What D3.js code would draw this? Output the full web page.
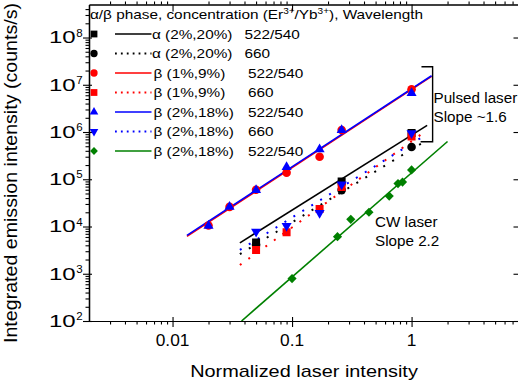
<!DOCTYPE html>
<html><head><meta charset="utf-8">
<script src="https://cdn.jsdelivr.net/npm/d3@7"></script>
<style>
body{margin:0;background:#fff}
svg{display:block}
text{font-family:"Liberation Sans",Arial,sans-serif;fill:#000}
</style>
</head><body>
<svg id="c" width="518" height="386"></svg>
<script>
// ---------- data ----------
const xDomain = [0.002, 8];
const yDomain = [100, 5e8];
const xTickValues = [0.01, 0.1, 1];
const xTickLabels = ["0.01", "0.1", "1"];
const yTickExps = [2, 3, 4, 5, 6, 7, 8];

const xAlpha522 = [0.05, 0.26, 1.0];
const yAlpha522 = [4.6e3, 9.0e4, 9.5e5];
const xAlpha660 = [0.05, 0.26, 1.0];
const yAlpha660 = [4.1e3, 5.9e4, 4.8e5];
const xBeta1_522 = [0.02, 0.03, 0.05, 0.09, 0.17, 0.26, 1.0];
const yBeta1_522 = [1.05e4, 2.6e4, 6.0e4, 1.38e5, 3.0e5, 1.1e6, 8.0e6];
const xBeta1_660 = [0.05, 0.09, 0.17, 0.26, 1.0];
const yBeta1_660 = [3.2e3, 7.6e3, 2.35e4, 6.9e4, 8.0e5];
const xBeta2_522 = [0.02, 0.03, 0.05, 0.09, 0.17, 0.26, 1.0];
const yBeta2_522 = [1.03e4, 2.6e4, 5.9e4, 1.82e5, 4.3e5, 1.1e6, 6.7e6];
const xBeta2_660 = [0.05, 0.09, 0.17, 0.26, 1.0];
const yBeta2_660 = [7.8e3, 1.03e4, 1.94e4, 7.8e4, 9.5e5];
const xCW = [0.1, 0.24, 0.31, 0.44, 0.65, 0.77, 0.84, 1.0];
const yCW = [790, 6.1e3, 1.42e4, 2.0e4, 4.4e4, 8.1e4, 8.7e4, 1.58e5];

// fitted power-law lines (end points)
const fitAlpha522 = [[0.0366, 4.5e3], [1.35, 1.38e6]];
const fitAlpha660 = [[0.0366, 2.6e3], [1.35, 6.8e5]];
const fitBeta1_522 = [[0.0132, 6.2e3], [1.47, 1.5e7]];
const fitBeta1_660 = [[0.0366, 1.53e3], [1.35, 1.1e6]];
const fitBeta2_522 = [[0.0132, 6.5e3], [1.47, 1.55e7]];
const fitBeta2_660 = [[0.0366, 3.2e3], [1.35, 9.1e5]];
const fitCW = [[0.0378, 100], [2.0, 6.3e5]];

const legendLabels = ["\u03b1 (2%,20%)", "\u03b1 (2%,20%)", "\u03b2 (1%,9%)", "\u03b2 (1%,9%)", "\u03b2 (2%,18%)", "\u03b2 (2%,18%)", "\u03b2 (2%,18%)"];
const legendWaves = ["522/540", "660", "522/540", "660", "522/540", "660", "522/540"];

// ---------- setup ----------
const BLACK = "#000000", RED = "#ff0000", BLUE = "#0000ff", GREEN = "#008000";
const svg = d3.select("#c");
const L = 89, R = 519.5, T = 4.5, B = 321;
const x = d3.scaleLog().domain(xDomain).range([L, R]);
const y = d3.scaleLog().domain(yDomain).range([B, T]);

const series = [
  {xs: xAlpha522, ys: yAlpha522, fit: fitAlpha522, color: BLACK, sym: "square", dash: false},
  {xs: xAlpha660, ys: yAlpha660, fit: fitAlpha660, color: BLACK, sym: "circle", dash: true},
  {xs: xBeta1_522, ys: yBeta1_522, fit: fitBeta1_522, color: RED, sym: "circle", dash: false},
  {xs: xBeta1_660, ys: yBeta1_660, fit: fitBeta1_660, color: RED, sym: "square", dash: true},
  {xs: xBeta2_522, ys: yBeta2_522, fit: fitBeta2_522, color: BLUE, sym: "up", dash: false},
  {xs: xBeta2_660, ys: yBeta2_660, fit: fitBeta2_660, color: BLUE, sym: "down", dash: true},
  {xs: xCW, ys: yCW, fit: fitCW, color: GREEN, sym: "diamond", dash: false}
];

function symPath(kind, scale) {
  const s = scale || 1;
  if (kind === "square") return d3.symbol(d3.symbolSquare, 64 * s * s)();
  if (kind === "circle") return d3.symbol(d3.symbolCircle, 58 * s * s)();
  if (kind === "up" || kind === "down") return d3.symbol(d3.symbolTriangle, 44 * s * s)();
  if (kind === "diamond") return d3.symbol(d3.symbolSquare, 42 * s * s)();
}
function symRot(kind) {
  if (kind === "down") return " rotate(180)";
  if (kind === "diamond") return " rotate(45)";
  return "";
}

// clip
svg.append("clipPath").attr("id", "clip").append("rect")
  .attr("x", L).attr("y", T).attr("width", R - L).attr("height", B - T);
const plot = svg.append("g").attr("clip-path", "url(#clip)");

// fit lines
const line = d3.line().x(d => x(d[0])).y(d => y(d[1]));
series.forEach(s => {
  plot.append("path").datum(s.fit).attr("d", line)
    .attr("fill", "none").attr("stroke", s.color)
    .attr("stroke-width", s.dash ? 2 : 1.6)
    .attr("stroke-dasharray", s.dash ? "2,8.5" : null);
});

// markers
series.forEach(s => {
  plot.selectAll(null).data(s.xs.map((v, i) => [v, s.ys[i]])).enter()
    .append("path").attr("d", symPath(s.sym))
    .attr("transform", d => `translate(${x(d[0])},${y(d[1])})` + symRot(s.sym))
    .attr("fill", s.color);
});

// ---------- axes ----------
function minorTicks(domain) {
  const out = [];
  for (let e = -4; e <= 9; e++) for (let k = 2; k <= 9; k++) {
    const v = k * Math.pow(10, e);
    if (v > domain[0] && v < domain[1]) out.push(v);
  }
  return out;
}
function decades(domain) {
  const out = [];
  for (let e = -4; e <= 9; e++) { const v = Math.pow(10, e); if (v >= domain[0] && v <= domain[1]) out.push(v); }
  return out;
}
const xMinor = minorTicks(xDomain), xMajor = decades(xDomain);
const yMinor = minorTicks(yDomain), yMajor = decades(yDomain);
const axG = svg.append("g").attr("stroke-width", 1.2);
function drawAxis(axisFn, scale, vals, size, tr) {
  const g = axG.append("g").attr("transform", tr)
    .call(axisFn(scale).tickValues(vals).tickSize(size).tickSizeOuter(0).tickFormat(""));
  g.select(".domain").attr("stroke", "#000").attr("stroke-width", 1.2);
  g.selectAll(".tick line").attr("stroke", "#000").attr("stroke-width", 1.1);
  return g;
}
// bottom: major in&out, minor out
drawAxis(d3.axisBottom, x, xMajor, 6, `translate(0,${B})`);
drawAxis(d3.axisTop, x, xMajor, 4, `translate(0,${B})`);
drawAxis(d3.axisBottom, x, xMinor, 3.5, `translate(0,${B})`);
// top: major in, minor out
drawAxis(d3.axisBottom, x, xMajor, 7, `translate(0,${T})`);
drawAxis(d3.axisTop, x, xMinor, 3, `translate(0,${T})`);
// left
drawAxis(d3.axisLeft, y, yMajor, 6, `translate(${L},0)`);
drawAxis(d3.axisRight, y, yMajor, 3, `translate(${L},0)`);
drawAxis(d3.axisLeft, y, yMinor, 3.5, `translate(${L},0)`);
// right
drawAxis(d3.axisLeft, y, yMajor, 6, `translate(${R},0)`);
drawAxis(d3.axisRight, y, yMinor, 3, `translate(${R},0)`);

// tick labels
xTickValues.forEach((v, i) => {
  svg.append("text").attr("transform", `translate(${x(v)},346) scale(1.05,1)`)
    .attr("text-anchor", "middle").attr("font-size", 16.5).text(xTickLabels[i]);
});
yTickExps.forEach(e => {
  const ty = y(Math.pow(10, e));
  const g = svg.append("g").attr("transform", `translate(49,${ty + 5.8})`);
  g.append("text").attr("transform", "scale(1.5,1)").attr("font-size", 16).text("10");
  g.append("text").attr("x", 27.3).attr("y", -6.7).attr("font-size", 11.5).text(e);
});

// axis titles
svg.append("text").attr("transform", "translate(304,377) scale(1.17,1)")
  .attr("text-anchor", "middle").attr("font-size", 17).text("Normalized laser intensity");
svg.append("text").attr("transform", "translate(16.5,173) rotate(-90) scale(1.09,1)")
  .attr("text-anchor", "middle").attr("font-size", 18).text("Integrated emission intensity (counts/s)");

// ---------- legend ----------
const lg = svg.append("g");
const title = lg.append("text").attr("transform", "translate(90,18.5) scale(1.18,1)").attr("font-size", 13);
title.append("tspan").text("\u03b1/\u03b2 phase, concentration (Er");
title.append("tspan").attr("font-size", 8.5).attr("dy", -5).text("3+");
title.append("tspan").attr("dy", 5).text("/Yb");
title.append("tspan").attr("font-size", 8.5).attr("dy", -5).text("3+");
title.append("tspan").attr("dy", 5).text("), Wavelength");

const rowY = [34, 53.5, 73, 92.5, 112, 131.5, 151];
series.forEach((s, i) => {
  const cy = rowY[i];
  lg.append("path").attr("d", symPath(s.sym, 0.85))
    .attr("transform", `translate(94,${cy})` + symRot(s.sym)).attr("fill", s.color);
  lg.append("line").attr("x1", 115).attr("x2", 151.5).attr("y1", cy).attr("y2", cy)
    .attr("stroke", s.color).attr("stroke-width", s.dash ? 1.8 : 1.5)
    .attr("stroke-dasharray", s.dash ? "1.8,4.1" : null);
  const isAlpha = legendLabels[i].startsWith("\u03b1");
  lg.append("text").attr("transform", `translate(${isAlpha ? 152 : 153.5},${cy + 4.6}) scale(1.18,1)`)
    .attr("font-size", 13).text(legendLabels[i]);
  lg.append("text").attr("transform", `translate(${isAlpha ? 244.5 : 248},${cy + 4.6}) scale(1.18,1)`)
    .attr("font-size", 13).text(legendWaves[i]);
});

// ---------- annotations ----------
const bracket = [[1.21, 2.4e7], [1.5, 2.4e7], [1.5, 6.2e5], [1.19, 6.2e5]];
svg.append("path").datum(bracket).attr("d", d3.line().x(d => x(d[0])).y(d => y(d[1])))
  .attr("fill", "none").attr("stroke", "#000").attr("stroke-width", 1.4);
svg.append("text").attr("transform", "translate(433.5,103) scale(1.05,1)").attr("font-size", 14.5).text("Pulsed laser");
svg.append("text").attr("transform", "translate(433.5,121.7) scale(1.05,1)").attr("font-size", 14.5).text("Slope ~1.6");
svg.append("text").attr("transform", "translate(375,227.3) scale(1.05,1)").attr("font-size", 14.5).text("CW laser");
svg.append("text").attr("transform", "translate(375,246.3) scale(1.05,1)").attr("font-size", 14.5).text("Slope 2.2");
</script>
</body></html>
